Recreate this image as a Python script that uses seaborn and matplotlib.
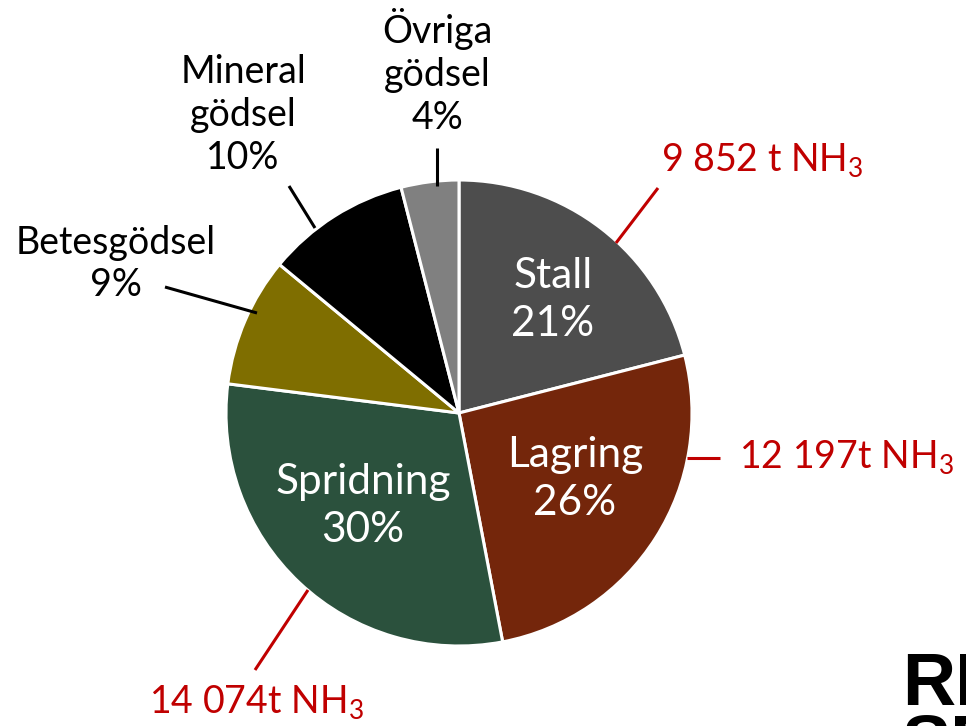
import matplotlib
matplotlib.use("Agg")
import matplotlib.pyplot as plt
import seaborn as sns

categories = ["Stall", "Lagring", "Spridning", "Betesgödsel", "Mineral\ngödsel", "Övriga\ngödsel"]
shares = [21, 26, 30, 9, 10, 4]
tonnes_labels = {"Stall": "9 852 t NH$_\\mathrm{3}$",
                 "Lagring": "12 197t NH$_\\mathrm{3}$",
                 "Spridning": "14 074t NH$_\\mathrm{3}$"}
colors = ["#4d4d4d", "#74260b", "#2b513d", "#7f6e00", "#000000", "#808080"]

sns.set_theme(style="white")
plt.rcParams['font.family'] = ['Lato', 'DejaVu Sans']
plt.rcParams['mathtext.fontset'] = 'custom'
plt.rcParams['mathtext.rm'] = 'Lato'

W, H = 966, 726
fig = plt.figure(figsize=(W / 100, H / 100), dpi=100)
ax = fig.add_axes([0, 0, 1, 1])

def Y(y):
    return H - y

ax.pie(shares, colors=colors, startangle=90, counterclock=False,
       center=(459, Y(413)), radius=233, frame=True,
       wedgeprops=dict(edgecolor='white', linewidth=2.2))
ax.set_xlim(0, W)
ax.set_ylim(0, H)
ax.set_aspect('equal')
ax.axis('off')

red = "#c00000"
fs_in = 30.5
fs_out = 27

# inside labels
inside = {"Stall": (553, 300), "Lagring": (575, 479), "Spridning": (363, 506)}
for i, c in enumerate(categories):
    if c in inside:
        x, y = inside[c]
        ax.text(x, Y(y), f"{c}\n{shares[i]}%", ha='center', va='center',
                color='white', fontsize=fs_in, linespacing=1.33)

# outside labels
outside = {"Betesgödsel": (116, 264), "Mineral\ngödsel": (243, 115), "Övriga\ngödsel": (437, 72)}
for i, c in enumerate(categories):
    if c in outside:
        x, y = outside[c]
        ax.text(x, Y(y), f"{c}\n{shares[i]}%", ha='center', va='center',
                color='black', fontsize=fs_out, linespacing=1.24)

# black leader lines
for (x1, y1, x2, y2) in [(437, 148, 437, 186), (289, 186, 315, 228), (165, 287, 257, 313)]:
    ax.plot([x1, x2], [Y(y1), Y(y2)], color='black', lw=2.2, solid_capstyle='butt')

# red leader lines
for (x1, y1, x2, y2) in [(658, 188, 616, 243), (687, 458, 720, 458), (308, 590, 255, 670)]:
    ax.plot([x1, x2], [Y(y1), Y(y2)], color=red, lw=2.2, solid_capstyle='butt')

red_pos = {"Stall": (762, 161), "Lagring": (846, 458), "Spridning": (256, 703)}
for c, (x, y) in red_pos.items():
    ax.text(x, Y(y), tonnes_labels[c], ha='center', va='center', color=red, fontsize=fs_out)

# logo (partially cut, as in the reference)
logo_font = ['Liberation Sans', 'DejaVu Sans']
ax.text(902, Y(705), "RI", ha='left', va='baseline', color='black', fontsize=53,
        fontweight='bold', family=logo_font)
ax.text(902, Y(767), "SE", ha='left', va='baseline', color='black', fontsize=53,
        fontweight='bold', family=logo_font)

fig.savefig("out.png", dpi=100)
